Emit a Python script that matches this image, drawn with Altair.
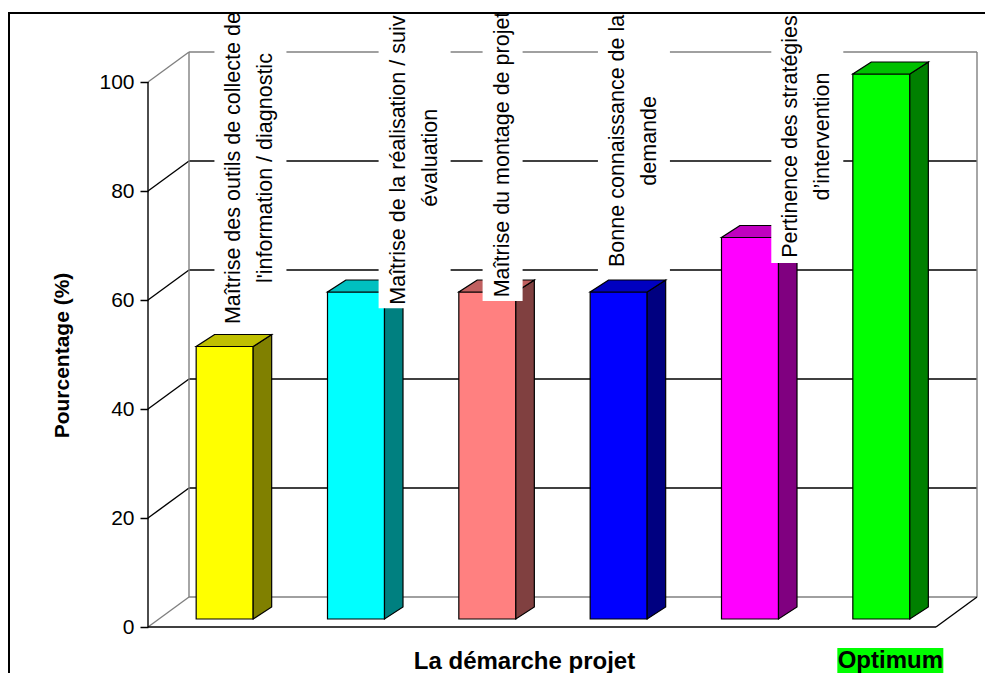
import altair as alt
import pandas as pd

# ---------------- data ----------------
CATEGORIES = [
    "Maîtrise des outils de collecte de l'information / diagnostic",
    "Maîtrise de la réalisation / suivi-évaluation",
    "Maîtrise du montage de projet",
    "Bonne connaissance de la demande",
    "Pertinence des stratégies d'intervention",
    "Optimum",
]
LABEL_TEXT = [
    "Maîtrise des outils de collecte de\nl'information / diagnostic",
    "Maîtrise de la réalisation / suivi\névaluation",
    "Maîtrise du montage de projet",
    "Bonne connaissance de la\ndemande",
    "Pertinence des stratégies\nd’intervention",
]
VALUES = [50, 60, 60, 60, 70, 100]
Y_TICKS = [0, 20, 40, 60, 80, 100]
FRONT_COLORS = ["#FFFF00", "#00FFFF", "#FF8080", "#0000FF", "#FF00FF", "#00FF00"]
SIDE_COLORS = ["#808000", "#008080", "#804040", "#000080", "#800080", "#008000"]
TOP_COLORS = ["#C0C000", "#00C0C0", "#C06060", "#0000C0", "#C000C0", "#00C000"]

# ---------------- layout ----------------
FONT = "Liberation Sans, Arial, sans-serif"
N = len(VALUES)
PLOT_W, PLOT_H = 788, 614
PX_X = PLOT_W / N            # pixels per category unit
PX_Y = 545 / 100             # pixels per percent
Y_TOP = PLOT_H / PX_Y
WALL = (41, 30)              # depth of the back wall (px)
BAR_D = (11, 8)              # bars sit this far into the depth (px)
SIDE_D = (18.5, 12)          # thickness of a bar (px)
BAR_HALF = 28.5              # half width of a bar front (px)
LABEL_SHIFT = [0.28, 0.53, 0.20, 0.20, 0.52]      # label centre vs category centre
LABEL_MID = [84.2, 86.1, 86.7, 89.2, 90.0]         # centre of rotated label text
LABEL_BASE = [55.9, 59.6, 60.9, 66.1, 67.9]        # lower end of rotated label text
LINE_H = 32
LBL_SIZE = 21.5

wx, wy = WALL[0] / PX_X, WALL[1] / PX_Y
bx, by = BAR_D[0] / PX_X, BAR_D[1] / PX_Y
sx, sy = SIDE_D[0] / PX_X, SIDE_D[1] / PX_Y
hw = BAR_HALF / PX_X

xs = alt.Scale(domain=[0, N], nice=False, zero=False)
ys = alt.Scale(domain=[0, Y_TOP], nice=False, zero=False)
X_AXIS = alt.Axis(domain=False, ticks=False, labels=False, grid=False,
                  title="La démarche projet", titleFont=FONT, titleFontSize=24,
                  titleFontWeight="bold", titleColor="black", titleX=376,
                  titleY=41, titleAlign="center", titleBaseline="alphabetic")
Y_AXIS = alt.Axis(values=Y_TICKS, domain=False, grid=False, tickSize=8,
                  tickColor="black", tickWidth=1.5, labelFont=FONT,
                  labelFontSize=21, labelColor="black", labelPadding=6,
                  title="Pourcentage (%)", titleFont=FONT, titleFontSize=21,
                  titleFontWeight="bold", titleColor="black", titleAngle=270,
                  titleX=-86, titleY=342, titleAlign="center",
                  titleBaseline="middle")


def X(field, **kw):
    return alt.X(field, scale=xs, axis=X_AXIS, **kw)


def Y(field, **kw):
    return alt.Y(field, scale=ys, axis=Y_AXIS, **kw)


GRAY, BLACK = "#808080", "#000000"

# ---- wall, floor and axis lines ----
lines = []
for t in Y_TICKS:
    c = GRAY if t in (0, 100) else BLACK
    lines.append(dict(x=wx, x2=N + wx, y=t + wy, y2=t + wy, c=c))   # back-wall gridline
    lines.append(dict(x=0, x2=wx, y=t, y2=t + wy, c=c))             # side connector
lines.append(dict(x=wx, x2=wx, y=wy, y2=100 + wy, c=GRAY))
lines.append(dict(x=N + wx, x2=N + wx, y=wy, y2=100 + wy, c=GRAY))
lines.append(dict(x=0, x2=N, y=0, y2=0, c=BLACK))
lines.append(dict(x=N, x2=N + wx, y=0, y2=wy, c=BLACK))
lines.append(dict(x=0, x2=0, y=0, y2=100, c=BLACK))
lines_df = pd.DataFrame(lines)

rules = alt.Chart(lines_df).mark_rule(strokeWidth=1.4).encode(
    x=X("x:Q"), x2="x2:Q", y=Y("y:Q"), y2="y2:Q",
    color=alt.Color("c:N", scale=None))

# ---- bars ----
front, side, top = [], [], []
for i, v in enumerate(VALUES):
    xl = i + 0.5 - hw + bx
    xr = i + 0.5 + hw + bx
    front.append(dict(bar=i, x=xl, x2=xr, y=by, y2=v + by, f=FRONT_COLORS[i]))
    side.append(dict(bar=i, x=xr, y=v + by, y2=by, f=SIDE_COLORS[i]))
    side.append(dict(bar=i, x=xr + sx, y=v + by + sy, y2=by + sy, f=SIDE_COLORS[i]))
    top.append(dict(bar=i, y=v + by, x=xl, x2=xr, f=TOP_COLORS[i]))
    top.append(dict(bar=i, y=v + by + sy, x=xl + sx, x2=xr + sx, f=TOP_COLORS[i]))

fronts = alt.Chart(pd.DataFrame(front)).mark_rect(stroke="black", strokeWidth=1.2).encode(
    x=X("x:Q"), x2="x2:Q", y=Y("y:Q"), y2="y2:Q",
    color=alt.Color("f:N", scale=None))
sides = alt.Chart(pd.DataFrame(side)).mark_area(
    stroke="black", strokeWidth=1.2, orient="vertical", interpolate="linear").encode(
    x=X("x:Q"), y=Y("y:Q", stack=None), y2="y2:Q",
    color=alt.Color("f:N", scale=None), detail="bar:N")
tops = alt.Chart(pd.DataFrame(top)).mark_area(
    stroke="black", strokeWidth=1.2, orient="horizontal", interpolate="linear").encode(
    y=Y("y:Q"), x=X("x:Q", stack=None), x2="x2:Q",
    color=alt.Color("f:N", scale=None), detail="bar:N")

# ---- rotated category labels ----
lab = []
for i, txt in enumerate(LABEL_TEXT):
    n_lines = txt.count("\n") + 1
    half = (LINE_H * (n_lines - 1) + 25) / 2 + 7.5
    cx = i + 0.5 + LABEL_SHIFT[i]
    tx = cx - (LINE_H * (n_lines - 1) / 2) / PX_X     # first line's position
    lab.append(dict(label=txt, tx=tx, bx1=cx - half / PX_X, bx2=cx + half / PX_X,
                    y=LABEL_MID[i], by1=LABEL_BASE[i] - 6 / PX_Y, by2=Y_TOP + 2))
lab_df = pd.DataFrame(lab)

boxes = alt.Chart(lab_df).mark_rect(fill="white", clip=True).encode(
    x=X("bx1:Q"), x2="bx2:Q", y=Y("by1:Q"), y2="by2:Q")
texts = alt.Chart(lab_df).mark_text(
    angle=270, align="center", baseline="middle", lineBreak="\n",
    lineHeight=LINE_H, font=FONT, fontSize=LBL_SIZE, color="black", clip=True).encode(
    x=X("tx:Q"), y=Y("y:Q"), text="label:N")

# ---- "Optimum" category label ----
ox = N - 0.5 + 20 / PX_X
opt_df = pd.DataFrame([dict(t=CATEGORIES[-1], x=ox, x1=ox - 53 / PX_X, x2=ox + 53 / PX_X,
                            y1=-21 / PX_Y, y2=-52 / PX_Y, ty=-41 / PX_Y)])
opt_box = alt.Chart(opt_df).mark_rect(fill="#00FF00").encode(
    x=X("x1:Q"), x2="x2:Q", y=Y("y1:Q"), y2="y2:Q")
opt_txt = alt.Chart(opt_df).mark_text(
    font=FONT, fontSize=24, fontWeight="bold", baseline="alphabetic",
    align="center", color="black").encode(x=X("x:Q"), y=Y("ty:Q"), text="t:N")

# ---- outer frame ----
frame_top = alt.Chart(lines_df).mark_rule(color="black", strokeWidth=2).encode(
    x=alt.value(-140), x2=alt.value(PLOT_W + 49), y=alt.value(0))
frame_left = alt.Chart(lines_df).mark_rule(color="black", strokeWidth=2).encode(
    x=alt.value(-139), y=alt.value(0), y2=alt.value(PLOT_H + 46))

chart = alt.layer(
    rules, fronts, sides, tops, boxes, texts, opt_box, opt_txt, frame_top, frame_left
).properties(
    width=PLOT_W, height=PLOT_H,
    padding={"left": 140, "top": 5, "right": 49, "bottom": 46},
    autosize=alt.AutoSizeParams(type="none"),
    background="white",
).configure_view(stroke=None)

chart.save("out.html", embed_options={"renderer": "svg", "actions": False})
